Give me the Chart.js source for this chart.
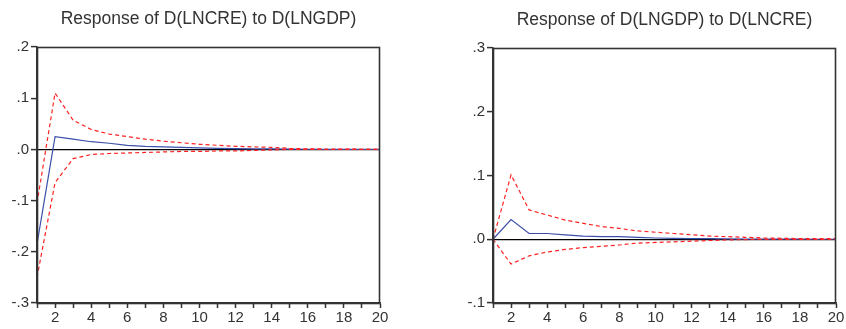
<!DOCTYPE html>
<html>
<head>
<meta charset="utf-8">
<script src="https://cdn.jsdelivr.net/npm/chart.js@4"></script>
<style>
  body { margin: 0; background: #fff; }
  .box { position: absolute; top: 0; width: 423px; height: 329px; }
</style>
</head>
<body>
<div class="box" style="left:0"><canvas id="chartLeft"></canvas></div>
<div class="box" style="left:423px"><canvas id="chartRight"></canvas></div>
<script>
// periods on the x axis
const periods = [1, 2, 3, 4, 5, 6, 7, 8, 9, 10, 11, 12, 13, 14, 15, 16, 17, 18, 19, 20];

// Response of D(LNCRE) to D(LNGDP)
const creResp  = [-0.185, 0.025, 0.020, 0.015, 0.012, 0.008, 0.006, 0.005, 0.004, 0.003, 0.002, 0.0015, 0.001, 0.001, 0.0005, 0.0003, 0.0002, 0.0001, 0.0001, 0.0];
const creUpper = [-0.105, 0.110, 0.057, 0.039, 0.030, 0.025, 0.020, 0.016, 0.013, 0.010, 0.008, 0.006, 0.005, 0.004, 0.002, 0.001, 0.0008, 0.0005, 0.0003, 0.0002];
const creLower = [-0.250, -0.065, -0.018, -0.010, -0.008, -0.007, -0.006, -0.005, -0.004, -0.004, -0.003, -0.003, -0.002, -0.001, 0.0, 0.0, -0.0002, -0.0001, -0.0001, 0.0];

// Response of D(LNGDP) to D(LNCRE)
const gdpResp  = [0.0, 0.031, 0.009, 0.009, 0.007, 0.005, 0.004, 0.004, 0.003, 0.002, 0.0015, 0.001, 0.001, 0.0005, 0.0003, 0.0002, 0.0001, 0.0001, 0.0, 0.0];
const gdpUpper = [0.0, 0.101, 0.046, 0.038, 0.030, 0.025, 0.020, 0.017, 0.013, 0.011, 0.009, 0.007, 0.005, 0.004, 0.003, 0.002, 0.0015, 0.001, 0.001, 0.0008];
const gdpLower = [0.0, -0.039, -0.026, -0.020, -0.016, -0.013, -0.011, -0.009, -0.006, -0.005, -0.004, -0.003, -0.002, -0.001, -0.0005, 0.0, -0.0003, -0.0002, -0.0001, 0.0];

// y ticks
const leftTicks  = { min: -0.3, max: 0.2, step: 0.1 };
const rightTicks = { min: -0.1, max: 0.3, step: 0.1 };

Chart.defaults.font.family = "'Liberation Sans', Arial, sans-serif";
Chart.defaults.color = '#333';

function toPoints(values) {
    return periods.map(function (p, i) { return { x: p, y: values[i] }; });
}

// draws the box round the plot area
const framePlugin = {
    id: 'frame',
    afterDatasetsDraw: function (chart) {
        const a = chart.chartArea;
        const ctx = chart.ctx;
        ctx.save();
        ctx.strokeStyle = '#333';
        ctx.lineWidth = 1.6;
        ctx.strokeRect(Math.round(a.left) + 0.5, Math.round(a.top) + 0.5,
            Math.round(a.right - a.left) - 1, Math.round(a.bottom - a.top));
        ctx.restore();
    }
};

function makeChart(id, title, resp, upper, lower, yr, yWidth, padRight, titleTop) {
    const red = 'rgb(255, 35, 35)';
    return new Chart(document.getElementById(id), {
        type: 'line',
        data: {
            datasets: [
                { data: toPoints(upper), borderColor: red, borderWidth: 1.2, borderDash: [4, 3], pointRadius: 0, tension: 0 },
                { data: toPoints(lower), borderColor: red, borderWidth: 1.2, borderDash: [4, 3], pointRadius: 0, tension: 0 },
                { data: toPoints(resp), borderColor: 'rgb(60, 80, 170)', borderWidth: 1.2, pointRadius: 0, tension: 0 }
            ]
        },
        options: {
            responsive: true,
            maintainAspectRatio: false,
            animation: false,
            layout: { padding: { left: 0, right: padRight, top: 0, bottom: 0 } },
            plugins: {
                legend: { display: false },
                tooltip: { enabled: false },
                title: {
                    display: true,
                    text: title,
                    fullSize: false,
                    color: '#333',
                    font: { size: 17.5, weight: 'normal' },
                    padding: { top: titleTop, bottom: 17 }
                }
            },
            scales: {
                x: {
                    type: 'linear',
                    min: 1,
                    max: 20,
                    afterFit: function (scale) { scale.height = 26; },
                    ticks: {
                        stepSize: 1,
                        autoSkip: false,
                        maxRotation: 0,
                        padding: 1,
                        font: { size: 15 },
                        callback: function (v) { return v % 2 === 0 ? v : ''; }
                    },
                    grid: { drawOnChartArea: false, tickLength: 5, tickColor: '#333', tickWidth: 1.5 },
                    border: { color: '#333', width: 1.6 }
                },
                y: {
                    min: yr.min,
                    max: yr.max,
                    afterFit: function (scale) { scale.width = yWidth; },
                    ticks: {
                        stepSize: yr.step,
                        padding: 2,
                        font: { size: 15 },
                        callback: function (v) { return v.toFixed(1).replace('0.', '.'); }
                    },
                    grid: {
                        color: function (c) { return c.tick && Math.abs(c.tick.value) < 1e-9 ? '#000' : 'rgba(0,0,0,0)'; },
                        lineWidth: 1.2,
                        tickColor: '#333',
                        tickWidth: 1.5,
                        tickLength: 6
                    },
                    border: { color: '#333', width: 1.6 }
                }
            }
        },
        plugins: [framePlugin]
    });
}

makeChart('chartLeft', 'Response of D(LNCRE) to D(LNGDP)', creResp, creUpper, creLower, leftTicks, 37, 43, 9);
makeChart('chartRight', 'Response of D(LNGDP) to D(LNCRE)', gdpResp, gdpUpper, gdpLower, rightTicks, 70, 10, 10);
</script>
</body>
</html>
